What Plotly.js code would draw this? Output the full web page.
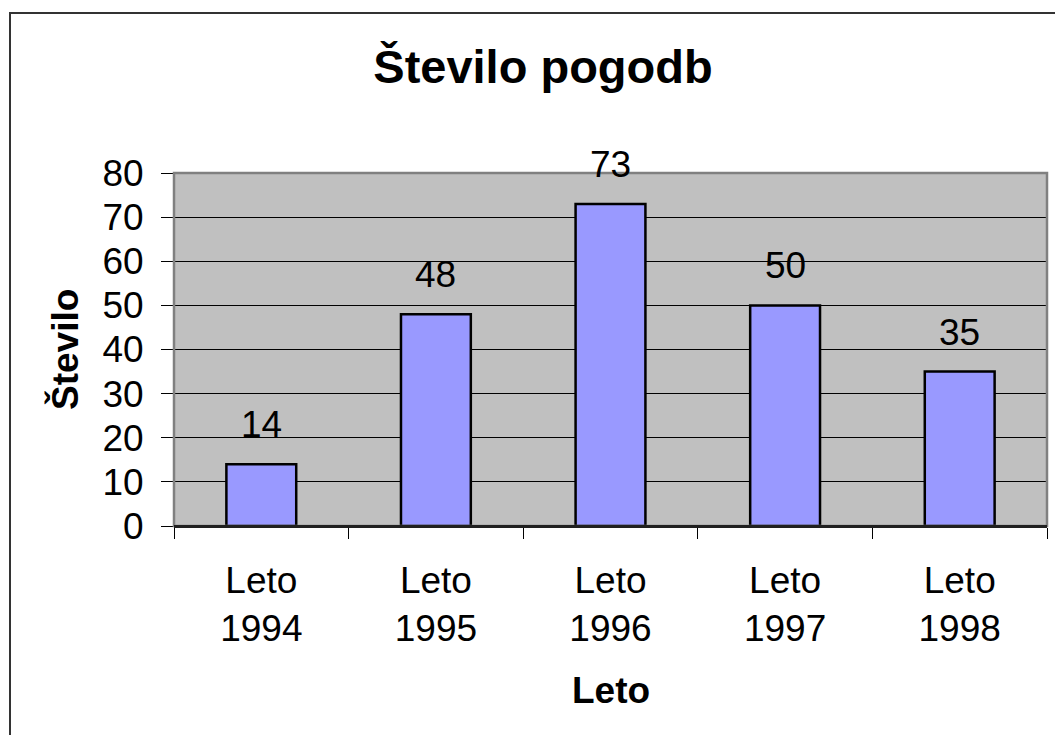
<!DOCTYPE html>
<html>
<head>
<meta charset="utf-8">
<script src="https://cdn.plot.ly/plotly-3.0.1.min.js"></script>
<style>html,body{margin:0;padding:0;background:#fff;}#chart{width:1055px;height:735px;}</style>
</head>
<body>
<div id="chart"></div>
<script>
const categories = ["Leto<br>1994", "Leto<br>1995", "Leto<br>1996", "Leto<br>1997", "Leto<br>1998"];
const values = [14, 48, 73, 50, 35];
const yTicks = [0, 10, 20, 30, 40, 50, 60, 70, 80];

const W = 1055, H = 735;
const L = 174, R = 8, T = 173, B = 209;
const pw = W - L - R, ph = H - T - B;
const px2x = p => (p - L) / pw;
const px2y = p => (H - B - p) / ph;

const FONT = "Liberation Sans, Arial, sans-serif";

const trace = {
  type: "bar",
  x: categories,
  y: values,
  marker: {color: "#9999FF", line: {color: "#000000", width: 2.5}},
  width: 0.4,
  hoverinfo: "x+y"
};

const annotations = values.map((v, i) => ({
  x: categories[i], y: v, xref: "x", yref: "y",
  text: String(v), showarrow: false, yanchor: "bottom", yshift: 17,
  font: {family: FONT, size: 37, color: "#000"}
}));
annotations.push({
  xref: "paper", yref: "paper", x: 0.5, y: px2y(690), xanchor: "center", yanchor: "middle",
  text: "<b>Leto</b>", showarrow: false, font: {family: FONT, size: 37, color: "#000"}
});
annotations.push({
  xref: "paper", yref: "paper", x: px2x(65), y: px2y(350), xanchor: "center", yanchor: "middle",
  text: "<b>Število</b>", textangle: -90, showarrow: false, font: {family: FONT, size: 37, color: "#000"}
});

const layout = {
  width: W, height: H,
  margin: {l: L, r: R, t: T, b: B, pad: 0},
  paper_bgcolor: "#ffffff",
  plot_bgcolor: "#C0C0C0",
  showlegend: false,
  title: {
    text: "<b>Število pogodb</b>",
    font: {family: FONT, size: 47, color: "#000"},
    x: 543 / W, xref: "container", xanchor: "center",
    y: 1 - 67 / H, yref: "container", yanchor: "middle"
  },
  xaxis: {
    type: "category",
    showgrid: false,
    ticks: "outside", ticklen: 11, tickwidth: 1, tickcolor: "#000",
    tickson: "boundaries",
    showline: true, linecolor: "#000", linewidth: 1.5,
    tickfont: {family: FONT, size: 37, color: "#000"},
    ticklabelstandoff: 21,
    fixedrange: true
  },
  yaxis: {
    range: [0, 80],
    tickvals: yTicks,
    ticktext: yTicks.map(String),
    showgrid: true, gridcolor: "#000", gridwidth: 1,
    zeroline: false,
    ticks: "outside", ticklen: 12, tickwidth: 1, tickcolor: "#000",
    showline: false,
    tickfont: {family: FONT, size: 37, color: "#000"},
    ticklabelstandoff: 10,
    fixedrange: true
  },
  shapes: [
    {type: "rect", xref: "paper", yref: "paper", x0: 0, x1: 1, y0: 0, y1: 1,
     line: {color: "#808080", width: 2.5}, fillcolor: "rgba(0,0,0,0)", layer: "above"},
    {type: "line", xref: "paper", yref: "paper", x0: 0, x1: 1, y0: 0, y1: 0,
     line: {color: "#000", width: 1.5}, layer: "above"},
    {type: "rect", xref: "paper", yref: "paper", x0: px2x(10), x1: px2x(1100), y0: px2y(800), y1: px2y(13),
     line: {color: "#333", width: 2}, fillcolor: "rgba(0,0,0,0)", layer: "below"}
  ],
  annotations: annotations,
  bargap: 0.6
};

Plotly.newPlot("chart", [trace], layout, {displayModeBar: false});
</script>
</body>
</html>
